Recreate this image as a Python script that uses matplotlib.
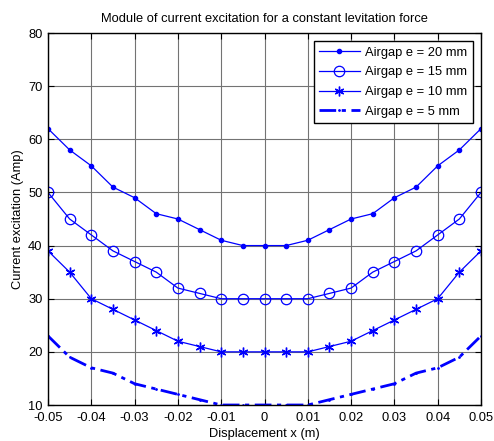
import numpy as np
import matplotlib
matplotlib.use("Agg")
import matplotlib.pyplot as plt

plt.rcParams['font.family'] = ['Liberation Sans', 'DejaVu Sans']

x = [-0.05, -0.045, -0.04, -0.035, -0.03, -0.025, -0.02, -0.015, -0.01, -0.005, 0,
     0.005, 0.01, 0.015, 0.02, 0.025, 0.03, 0.035, 0.04, 0.045, 0.05]
i20 = [62, 58, 55, 51, 49, 46, 45, 43, 41, 40, 40, 40, 41, 43, 45, 46, 49, 51, 55, 58, 62]
i15 = [50, 45, 42, 39, 37, 35, 32, 31, 30, 30, 30, 30, 30, 31, 32, 35, 37, 39, 42, 45, 50]
i10 = [39, 35, 30, 28, 26, 24, 22, 21, 20, 20, 20, 20, 20, 21, 22, 24, 26, 28, 30, 35, 39]
i5 = [23, 19, 17, 16, 14, 13, 12, 11, 10, 10, 10, 10, 10, 11, 12, 13, 14, 16, 17, 19, 23]
labels = ['Airgap e = 20 mm', 'Airgap e = 15 mm', 'Airgap e = 10 mm', 'Airgap e = 5 mm']

fig = plt.figure(figsize=(4.94, 4.41), dpi=100)
ax = fig.add_axes([48/494, 1 - 405/441, (481-48)/494, (405-33)/441])

blue = '#0000ff'
asterisk = (6, 2, 0)
ax.plot(x, i20, '-', color=blue, marker='.', markersize=6, lw=0.9, label=labels[0])
ax.plot(x, i15, '-', color=blue, marker='o', markersize=7.5, mfc='none', mew=0.9, lw=0.9, label=labels[1])
ax.plot(x, i10, '-', color=blue, marker=asterisk, markersize=7, mew=1, lw=0.9, label=labels[2])
ax.plot(x, i5, color=blue, marker='.', markersize=2, lw=2, dashes=(6, 2, 1.5, 2), label=labels[3])

ax.set_xlim(-0.05, 0.05)
ax.set_ylim(10, 80)
ax.set_xticks(np.arange(-0.05, 0.051, 0.01))
ax.set_xticklabels(['-0.05', '-0.04', '-0.03', '-0.02', '-0.01', '0',
                    '0.01', '0.02', '0.03', '0.04', '0.05'])
ax.set_yticks(range(10, 81, 10))
ax.tick_params(direction='in', top=True, right=True, labelsize=9.3, length=4)
ax.tick_params(axis='x', pad=5)
ax.tick_params(axis='y', pad=4)
ax.grid(True, color='0.45', lw=0.8)
for s in ax.spines.values():
    s.set_linewidth(1)

ax.set_title('Module of current excitation for a constant levitation force', fontsize=9.3, pad=8)
ax.set_xlabel('Displacement x (m)', fontsize=9.3, labelpad=3)
ax.set_ylabel('Current excitation (Amp)', fontsize=9.3, labelpad=3)

leg = ax.legend(loc='upper right', fontsize=9.3, fancybox=False, framealpha=1,
                edgecolor='black', borderaxespad=0.65, handlelength=3.2,
                labelspacing=0.6, handletextpad=0.4)
leg.get_frame().set_linewidth(1)

fig.savefig('out.png', dpi=100)
